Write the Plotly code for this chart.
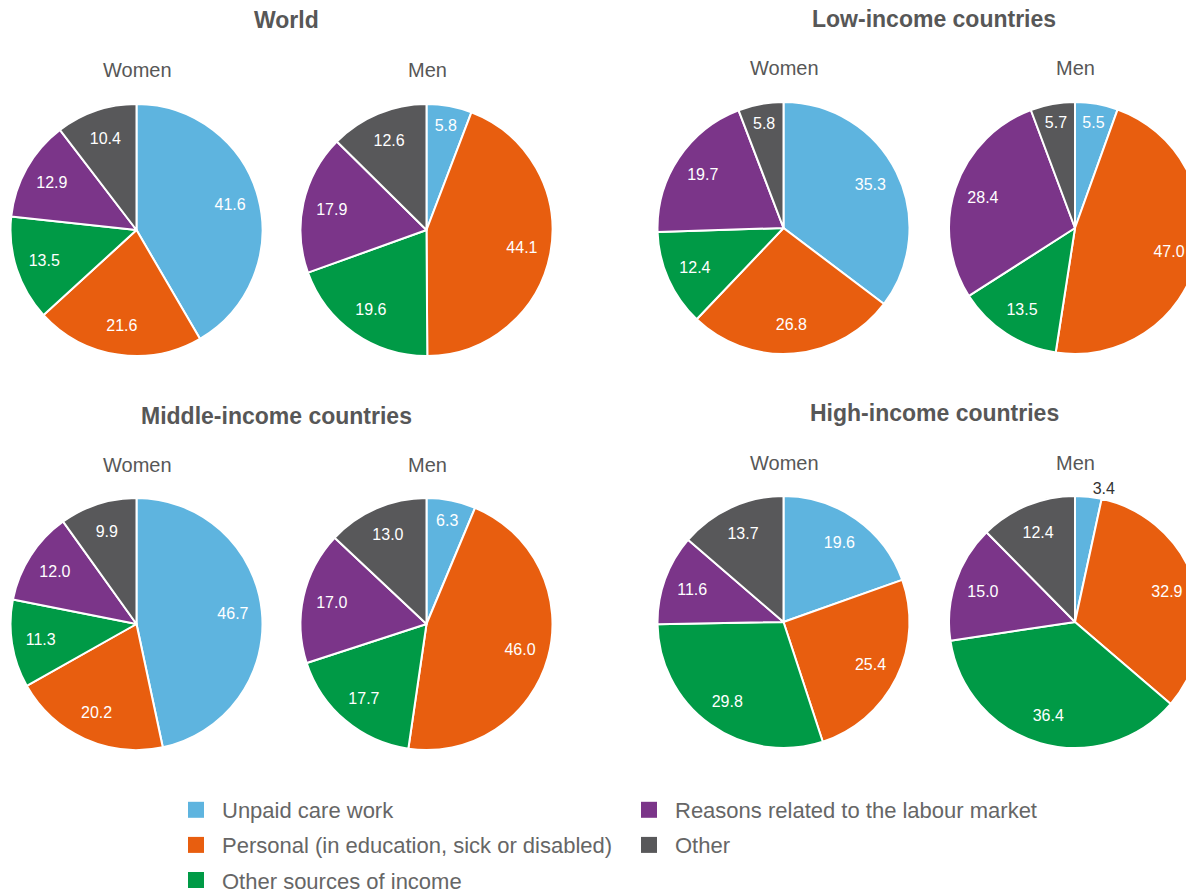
import plotly.graph_objects as go

W, H = 1194, 892
OFF = 8  # page body margin offset in the screenshot

categories = ["Unpaid care work",
              "Personal (in education, sick or disabled)",
              "Other sources of income",
              "Reasons related to the labour market",
              "Other"]
colors = ["#5EB4DF", "#E85E0F", "#009A46", "#7B3589", "#58585A"]

world_women = [41.6, 21.6, 13.5, 12.9, 10.4]
world_men = [5.8, 44.1, 19.6, 17.9, 12.6]
low_women = [35.3, 26.8, 12.4, 19.7, 5.8]
low_men = [5.5, 47.0, 13.5, 28.4, 5.7]
mid_women = [46.7, 20.2, 11.3, 12.0, 9.9]
mid_men = [6.3, 46.0, 17.7, 17.0, 13.0]
high_women = [19.6, 25.4, 29.8, 11.6, 13.7]
high_men = [3.4, 32.9, 36.4, 15.0, 12.4]

group_titles = ["World", "Low-income countries", "Middle-income countries", "High-income countries"]
sub_titles = ["Women", "Men"]

FONT = "Liberation Sans, Arial, Helvetica, sans-serif"
TXT = "#575757"


def px(x):
    return (x - OFF) / W


def py(y):
    return 1 - (y - OFF) / H


# (values, center x px, center y px, radius px) in screenshot pixels
pies = [
    (world_women, 136.5, 230, 126),
    (world_men, 426.5, 230, 126),
    (low_women, 783.5, 228, 126),
    (low_men, 1075, 228, 126),
    (mid_women, 136.5, 624, 126),
    (mid_men, 426.5, 624, 126),
    (high_women, 783.5, 622, 126),
    (high_men, 1075, 622, 126),
]

fig = go.Figure()
for i, (vals, cx, cy, r) in enumerate(pies):
    x0, x1 = max(0, px(cx - r)), min(1, px(cx + r))
    y0, y1 = max(0, py(cy + r)), min(1, py(cy - r))
    dom = dict(x=[x0, x1], y=[y0, y1])
    # coloured slices
    fig.add_trace(go.Pie(
        labels=categories, values=vals, sort=False, direction="clockwise",
        rotation=0,
        marker=dict(colors=colors, line=dict(color="white", width=2)),
        textinfo="none", domain=dom,
        showlegend=False, hoverinfo="label+value",
    ))
    # value labels (same slices, transparent, ring layout pushes labels outward)
    pos = ["inside"] * len(vals)
    if i == 7:
        pos[0] = "outside"
    fig.add_trace(go.Pie(
        labels=categories, values=vals, sort=False, direction="clockwise",
        rotation=0, hole=0.54,
        marker=dict(colors=["rgba(0,0,0,0)"] * len(vals), line=dict(width=0)),
        texttemplate="%{value:.1f}", textposition=pos,
        insidetextorientation="horizontal",
        insidetextfont=dict(color="white", size=16, family=FONT),
        outsidetextfont=dict(color="#333333", size=16, family=FONT),
        domain=dom, showlegend=False, hoverinfo="skip",
    ))

# legend entries (dummy traces)
for j, (cat, col) in enumerate(zip(categories, colors)):
    fig.add_trace(go.Scatter(
        x=[None], y=[None], mode="markers", name=cat,
        marker=dict(symbol="square", size=16, color=col),
        legend="legend" if j < 3 else "legend2",
        legendgroup=str(j), showlegend=True,
    ))

leg_common = dict(font=dict(size=22, color="#666666", family=FONT),
                  bgcolor="rgba(0,0,0,0)", tracegroupgap=3.5, itemwidth=42,
                  xanchor="left", yanchor="top", orientation="v")
fig.update_layout(
    legend=dict(x=px(170), y=py(789), **leg_common),
    legend2=dict(x=px(623), y=py(789), **leg_common),
)

ann = []
title_pos = [(286, 20), (934, 19), (276, 416), (934, 413)]
for t, (x, y) in zip(group_titles, title_pos):
    ann.append(dict(text="<b>%s</b>" % t, x=px(x), y=py(y), xref="paper", yref="paper",
                    showarrow=False, xanchor="center", yanchor="middle", borderpad=0,
                    font=dict(size=23, color=TXT, family=FONT)))
sub_pos = [(137, 70), (427, 70), (784, 68), (1075, 68),
           (137, 465), (427, 465), (784, 463), (1075, 463)]
for k, (x, y) in enumerate(sub_pos):
    ann.append(dict(text=sub_titles[k % 2], x=px(x), y=py(y), xref="paper", yref="paper",
                    showarrow=False, xanchor="center", yanchor="middle",
                    font=dict(size=20, color=TXT, family=FONT)))

fig.update_layout(
    width=W, height=H, margin=dict(l=0, r=0, t=0, b=0, autoexpand=False),
    paper_bgcolor="white", plot_bgcolor="white",
    annotations=ann,
    xaxis=dict(visible=False), yaxis=dict(visible=False),
)

fig.write_html("out.html")
